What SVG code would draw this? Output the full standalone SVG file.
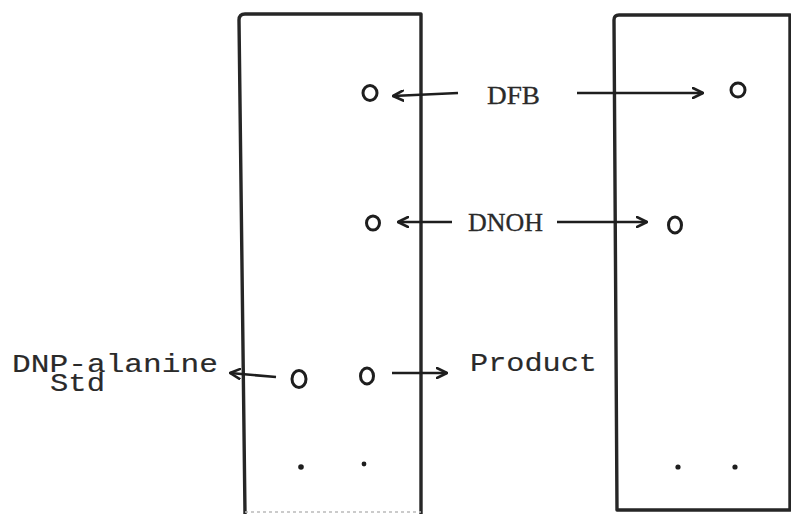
<svg xmlns="http://www.w3.org/2000/svg" width="791" height="514" viewBox="0 0 791 514">
<style>
.plate{fill:none;stroke:#262626;stroke-width:3.4;stroke-linejoin:round;stroke-linecap:round}
.spot{fill:none;stroke:#1e1e1e;stroke-width:3}
.dot{fill:#1e1e1e}
.arr{fill:none;stroke:#1e1e1e;stroke-width:2.6;marker-end:url(#ah)}
.mono{font-family:"Liberation Mono","Courier New",monospace;font-size:26px;fill:#2a2a2a;stroke:#2a2a2a;stroke-width:0.15}
.serif{font-family:"Liberation Serif","Times New Roman",serif;font-size:26px;fill:#2a2a2a;stroke:#2a2a2a;stroke-width:0.3}
</style>
<defs>
<marker id="ah" viewBox="0 0 12 12" refX="11" refY="6" markerWidth="12" markerHeight="12" markerUnits="userSpaceOnUse" orient="auto">
<path d="M1,1 L11,6 L1,11" fill="none" stroke="#1e1e1e" stroke-width="2.6" stroke-linecap="round" stroke-linejoin="round"/>
</marker>
</defs>
<rect width="791" height="514" fill="#ffffff"/>
<g id="plate-left">
<path class="plate" d="M245,514 L239,20 Q239,14 245,14 L421,14 L421,514"/>
<path d="M245,512 L421,512" stroke="#bbbbbb" stroke-width="1.5" stroke-dasharray="3 3" fill="none"/>
</g>
<g id="plate-right">
<path class="plate" d="M617,510 L614,20 Q614,15 619,15 L790,15 L790,510 Z"/>
</g>
<g id="spot-dfb-left"><ellipse class="spot" cx="370" cy="93" rx="7" ry="7.5"/></g>
<g id="spot-dfb-right"><ellipse class="spot" cx="738" cy="90" rx="7" ry="7"/></g>
<g id="spot-dnoh-left"><ellipse class="spot" cx="373" cy="223" rx="6.5" ry="7"/></g>
<g id="spot-dnoh-right"><ellipse class="spot" cx="675" cy="225" rx="6.5" ry="8"/></g>
<g id="spot-std"><ellipse class="spot" cx="299" cy="379" rx="7" ry="8.5"/></g>
<g id="spot-product"><ellipse class="spot" cx="367" cy="376" rx="6.5" ry="8"/></g>
<g id="origin-dots">
<circle class="dot" cx="301" cy="467" r="2.8"/>
<circle class="dot" cx="364" cy="464" r="2.4"/>
<circle class="dot" cx="678" cy="467" r="2.6"/>
<circle class="dot" cx="735" cy="467" r="2.6"/>
</g>
<g id="label-dfb"><text class="serif" x="487" y="104" textLength="53" lengthAdjust="spacingAndGlyphs">DFB</text></g>
<g id="label-dnoh"><text class="serif" x="468" y="231" textLength="75" lengthAdjust="spacingAndGlyphs">DNOH</text></g>
<g id="label-dnp">
<text class="mono" x="12" y="372" textLength="206" lengthAdjust="spacingAndGlyphs">DNP-alanine</text>
<text class="mono" x="50" y="391" textLength="55" lengthAdjust="spacingAndGlyphs">Std</text>
</g>
<g id="label-product"><text class="mono" x="470" y="371" textLength="127" lengthAdjust="spacingAndGlyphs">Product</text></g>
<g id="connectors">
<path class="arr" d="M458,93 L393,96"/>
<path class="arr" d="M577,93 L703,93"/>
<path class="arr" d="M452,222 L398,222"/>
<path class="arr" d="M557,222 L647,222"/>
<path class="arr" d="M276,377 L230,373"/>
<path class="arr" d="M392,373 L447,373"/>
</g>
</svg>
